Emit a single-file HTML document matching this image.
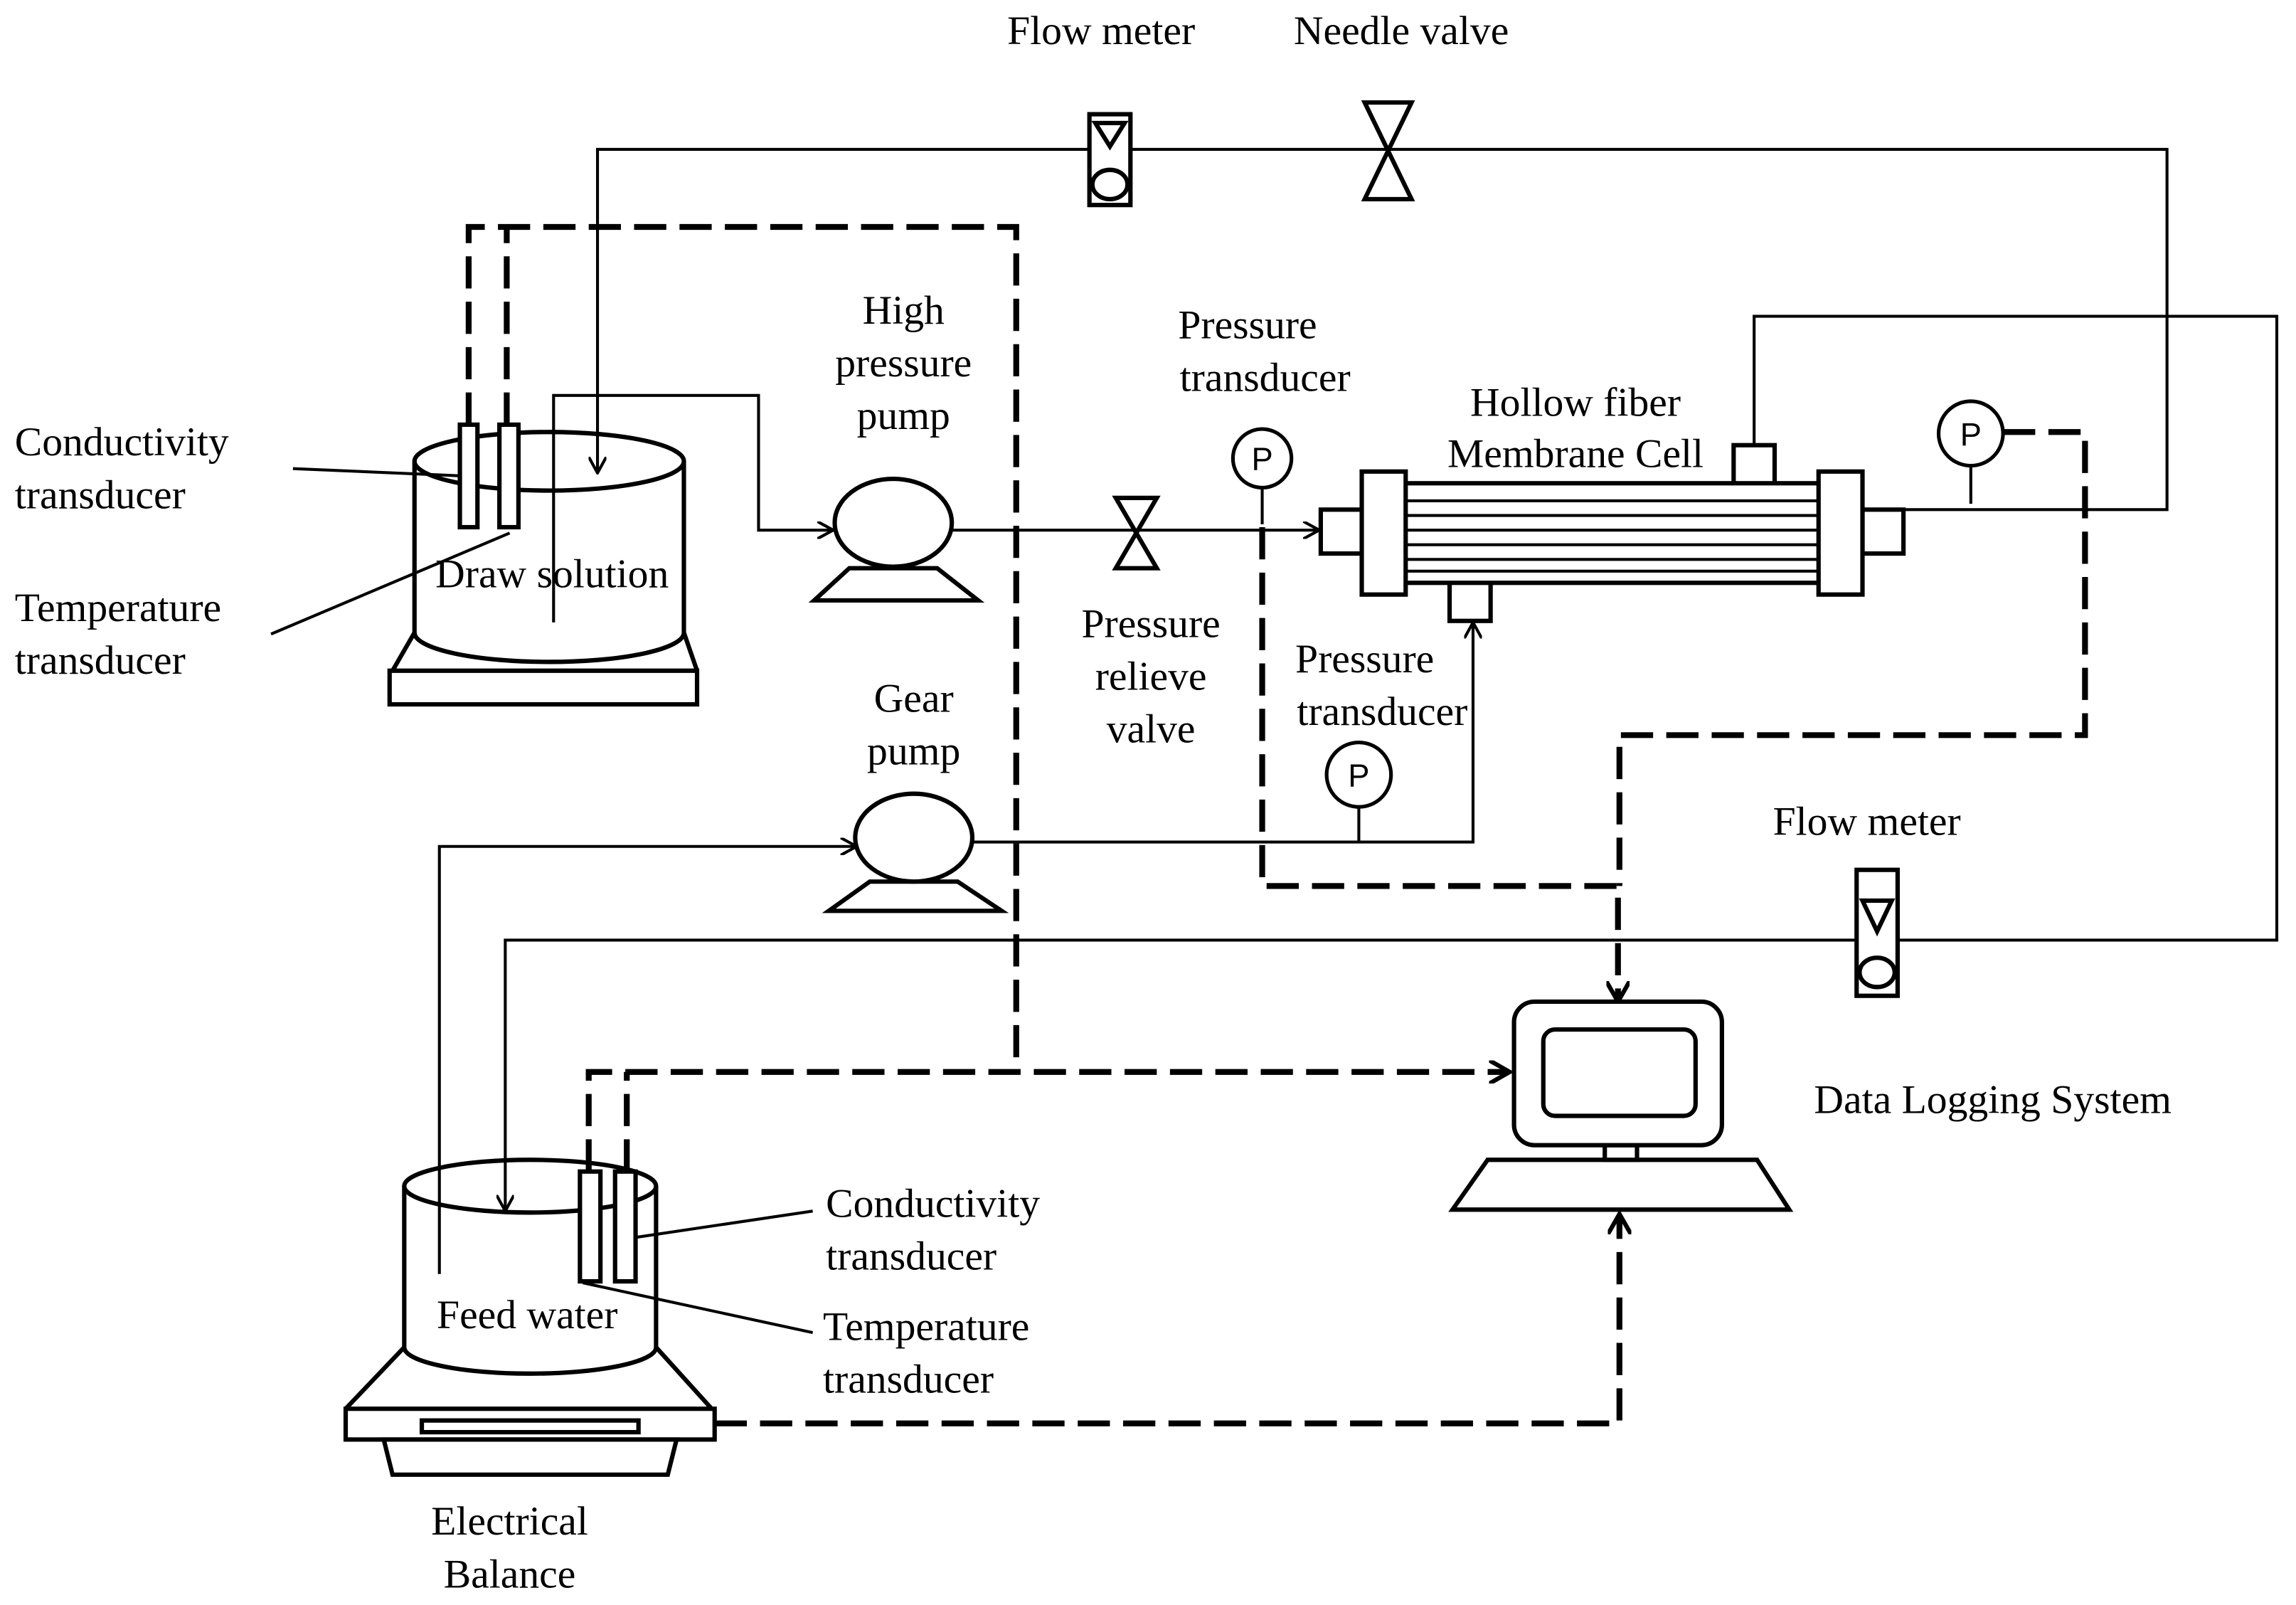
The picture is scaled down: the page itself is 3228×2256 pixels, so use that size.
<!DOCTYPE html>
<html><head><meta charset="utf-8"><style>
html,body{margin:0;padding:0;background:#fff;}
svg{display:block;}
text{font-family:"Liberation Serif",serif;font-size:28px;fill:#000;}
</style></head><body>
<svg width="3228" height="2256" viewBox="0 0 1568 1096" xmlns="http://www.w3.org/2000/svg">
<defs>
<marker id="a" markerWidth="12" markerHeight="12" refX="10" refY="6" orient="auto" markerUnits="userSpaceOnUse">
<path d="M0,0 L11,6 L0,12" fill="none" stroke="#000" stroke-width="2"/></marker>
<marker id="b" markerWidth="16" markerHeight="16" refX="13" refY="8" orient="auto" markerUnits="userSpaceOnUse">
<path d="M0,0 L14,8 L0,16" fill="none" stroke="#000" stroke-width="3"/></marker>
</defs>
<g fill="none" stroke="#000" stroke-width="3">
<!-- draw tank -->
<path d="M266,458 L476,458 L476,481 L266,481 Z"/>
<path d="M283,432 L268,458 M467,432 L476,458"/>
<path d="M283,315 L283,432 A92,20 0 0 0 467,432 L467,315"/>
<ellipse cx="375" cy="315" rx="92" ry="20"/>
<!-- feed tank/balance -->
<path d="M276,920 L236,962 M448,920 L486,962"/>
<path d="M262,983 L462,983 L456,1007 L268,1007 Z"/>
<rect x="236" y="962" width="252" height="21"/>
<rect x="288" y="970" width="148" height="8"/>
<path d="M276,810 L276,920 A86,18 0 0 0 448,920 L448,810"/>
<ellipse cx="362" cy="810" rx="86" ry="18"/>
</g>
<g fill="none" stroke="#000" stroke-width="2">
<polyline points="1300,348 1480,348 1480,102 408,102 408,322" marker-end="url(#a)"/>
<polyline points="378,425 378,270 518,270 518,362 568,362" marker-end="url(#a)"/>
<line x1="650" y1="362" x2="900" y2="362" marker-end="url(#a)"/>
<polyline points="1198,304 1198,216 1555,216 1555,642 345,642 345,826" marker-end="url(#a)"/>
<polyline points="300,870 300,578 584,578" marker-end="url(#a)"/>
<polyline points="662,575 1006,575 1006,426" marker-end="url(#a)"/>
<line x1="200" y1="320" x2="316" y2="325"/>
<line x1="185" y1="433" x2="348" y2="364"/>
<line x1="434" y1="845" x2="555" y2="827"/>
<line x1="398" y1="876" x2="555" y2="910"/>
</g>
<g fill="none" stroke="#000" stroke-width="4" stroke-dasharray="22,9">
<polyline points="320,290 320,155 694,155 694,732"/>
<polyline points="346,290 346,155"/>
<polyline points="402,800 402,732 1030,732" marker-end="url(#b)"/>
<polyline points="428,800 428,732"/>
<polyline points="862,360 862,605 1105,605 1105,683" marker-end="url(#b)"/>
<polyline points="1368,295 1424,295 1424,502 1106,502 1106,605"/>
<polyline points="488,972 1106,972 1106,830" marker-end="url(#b)"/>
</g>
<g fill="#fff" stroke="#000" stroke-width="3">
<rect x="744" y="78" width="28" height="62"/>
<path d="M748,84 L768,84 L758,100 Z" fill="none"/>
<ellipse cx="758" cy="126" rx="12" ry="10"/>
<path d="M932,70 L964,70 L932,136 L964,136 Z"/>
<rect x="1268" y="594" width="28" height="86"/>
<path d="M1272,615 L1292,615 L1282,636 Z" fill="none"/>
<ellipse cx="1282" cy="664" rx="12" ry="10"/>
<rect x="314" y="290" width="12" height="70"/>
<rect x="341" y="290" width="13" height="70"/>
<path d="M580,388 L640,388 L668,410 L556,410 Z"/>
<ellipse cx="610" cy="357" rx="40" ry="30"/>
<path d="M762,340 L790,340 L762,388 L790,388 Z"/>
<rect x="902" y="348" width="30" height="30"/>
<rect x="1272" y="348" width="28" height="30"/>
<rect x="1184" y="304" width="28" height="28"/>
<rect x="990" y="396" width="28" height="28"/>
<rect x="958" y="330" width="286" height="68"/>
<rect x="930" y="322" width="30" height="84"/>
<rect x="1242" y="322" width="30" height="84"/>
<path d="M594,602 L654,602 L684,622 L566,622 Z"/>
<ellipse cx="624" cy="572" rx="40" ry="30"/>
<rect x="396" y="800" width="14" height="75"/>
<rect x="420" y="800" width="14" height="75"/>
<path d="M1016,792 L1200,792 L1222,826 L992,826 Z"/>
<rect x="1096" y="782" width="22" height="10"/>
<rect x="1034" y="684" width="142" height="98" rx="14"/>
<rect x="1054" y="703" width="104" height="59" rx="8"/>
</g>
<g stroke="#000" stroke-width="2">
<line x1="960" y1="342" x2="1242" y2="342"/><line x1="960" y1="352" x2="1242" y2="352"/>
<line x1="960" y1="362" x2="1242" y2="362"/><line x1="960" y1="372" x2="1242" y2="372"/>
<line x1="960" y1="382" x2="1242" y2="382"/><line x1="960" y1="390" x2="1242" y2="390"/>
<line x1="862" y1="333" x2="862" y2="358"/>
<line x1="928" y1="551" x2="928" y2="575"/>
<line x1="1346" y1="318" x2="1346" y2="344"/>
</g>
<g fill="#fff" stroke="#000" stroke-width="2.5">
<circle cx="862" cy="313" r="20"/><circle cx="928" cy="529" r="22"/><circle cx="1346" cy="296" r="22"/>
</g>
<g style="font-family:'Liberation Sans',sans-serif;font-size:22px" text-anchor="middle">
<text x="862" y="321" style="font-family:'Liberation Sans',sans-serif;font-size:22px">P</text>
<text x="928" y="537" style="font-family:'Liberation Sans',sans-serif;font-size:22px">P</text>
<text x="1346" y="304" style="font-family:'Liberation Sans',sans-serif;font-size:22px">P</text>
</g>
<g text-anchor="middle">
<text x="752" y="30">Flow meter</text>
<text x="957" y="30">Needle valve</text>
<text x="617" y="221">High</text><text x="617" y="257">pressure</text><text x="617" y="293">pump</text>
<text x="852" y="231">Pressure</text><text x="864" y="267">transducer</text>
<text x="1076" y="284">Hollow fiber</text><text x="1076" y="319">Membrane Cell</text>
<text x="377" y="401">Draw solution</text>
<text x="786" y="435">Pressure</text><text x="786" y="471">relieve</text><text x="786" y="507">valve</text>
<text x="932" y="459">Pressure</text><text x="944" y="495">transducer</text>
<text x="624" y="486">Gear</text><text x="624" y="522">pump</text>
<text x="1275" y="570">Flow meter</text>
<text x="1361" y="760">Data Logging System</text>
<text x="360" y="907">Feed water</text>
<text x="348" y="1048">Electrical</text><text x="348" y="1084">Balance</text>
</g>
<g>
<text x="10" y="311">Conductivity</text><text x="10" y="347">transducer</text>
<text x="10" y="424">Temperature</text><text x="10" y="460">transducer</text>
<text x="564" y="831">Conductivity</text><text x="564" y="867">transducer</text>
<text x="562" y="915">Temperature</text><text x="562" y="951">transducer</text>
</g>
</svg>
</body></html>
